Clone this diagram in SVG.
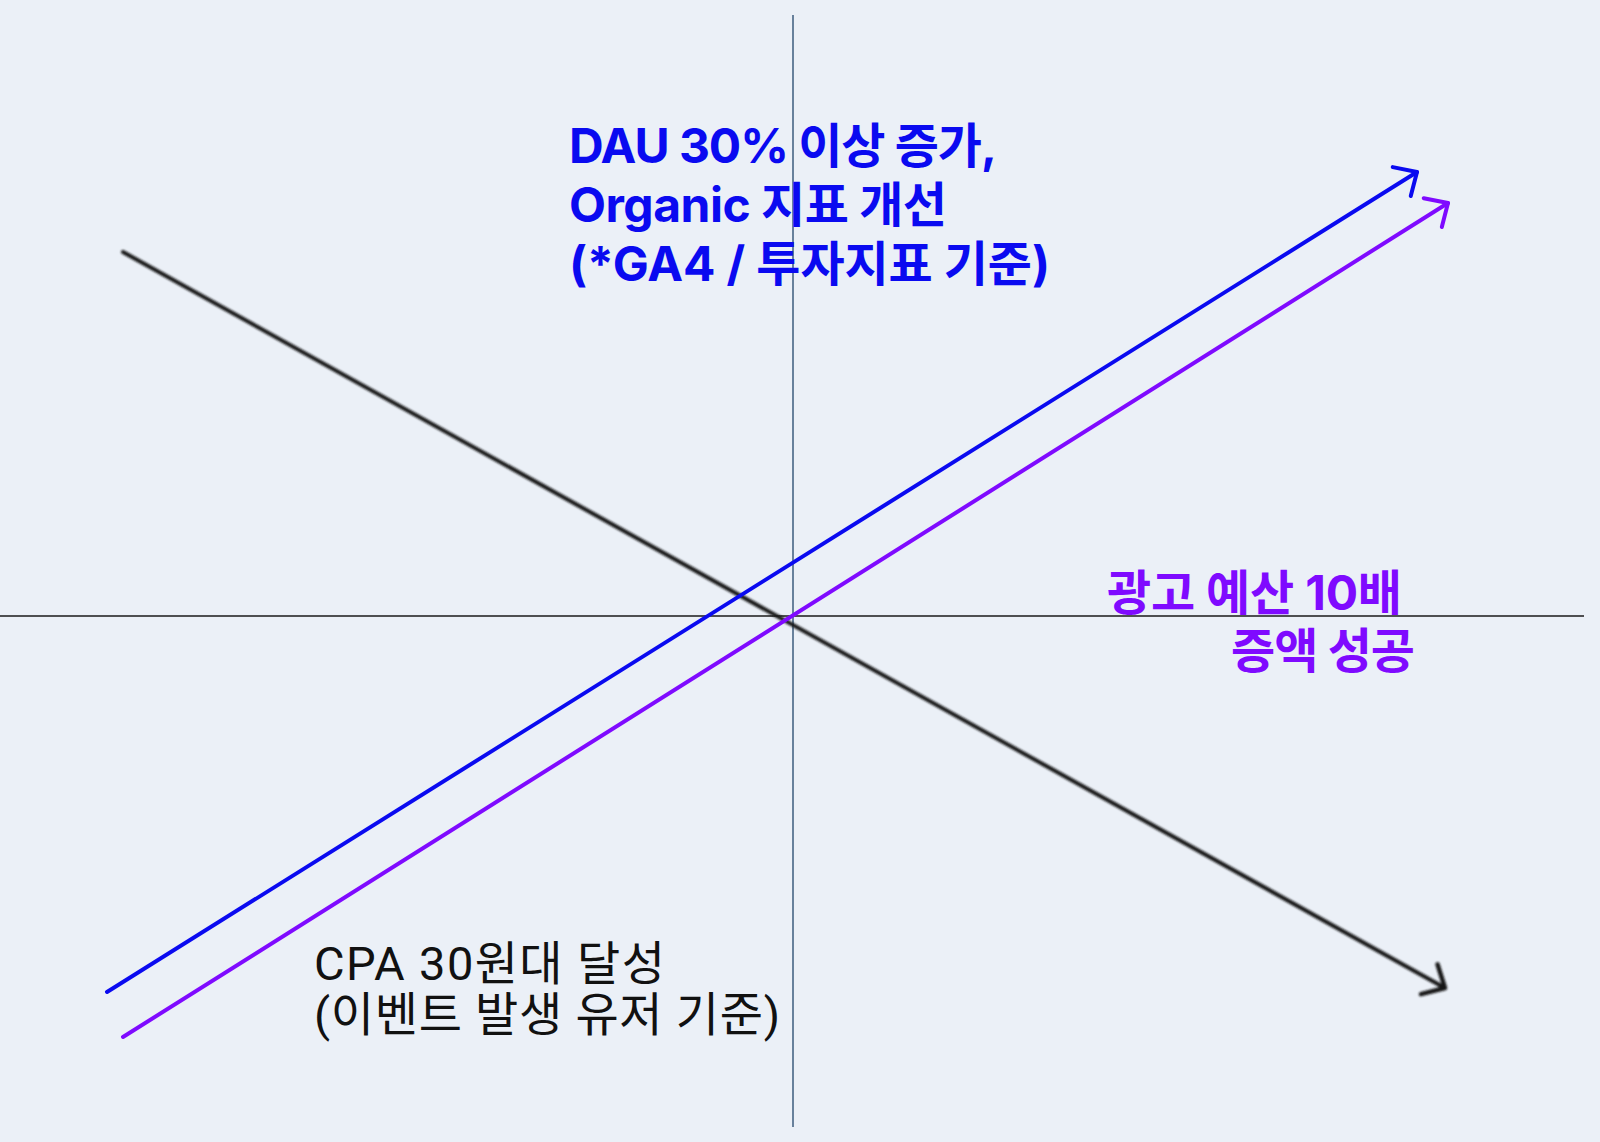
<svg xmlns="http://www.w3.org/2000/svg" width="1600" height="1142" viewBox="0 0 1600 1142">
<defs>
<style>
.t-blue{font-family:"Inter","Noto Sans CJK KR",sans-serif;font-weight:700;font-size:48px;fill:#0a0af0;}
.t-purple{font-family:"Inter","Noto Sans CJK KR",sans-serif;font-weight:700;font-size:48px;fill:#7f0aff;}
.t-black{font-family:"Roboto","Noto Sans CJK KR",sans-serif;font-weight:400;font-size:47px;fill:#111;}
.ln{fill:none;stroke-width:4;stroke-linecap:round;}
</style>
<filter id="blur" x="-5%" y="-5%" width="110%" height="110%"><feGaussianBlur stdDeviation="1.3"/></filter>
<marker id="ah-blue" markerUnits="userSpaceOnUse" viewBox="-25 -20 30 40" refX="0" refY="0" markerWidth="30" markerHeight="40" orient="auto"><path d="M -18 -17 L 0 0 L -18 17" fill="none" stroke="#0a0af0" stroke-width="4" stroke-linecap="round" stroke-linejoin="round"/></marker>
<marker id="ah-purple" markerUnits="userSpaceOnUse" viewBox="-25 -20 30 40" refX="0" refY="0" markerWidth="30" markerHeight="40" orient="auto"><path d="M -18 -17 L 0 0 L -18 17" fill="none" stroke="#7f0aff" stroke-width="4" stroke-linecap="round" stroke-linejoin="round"/></marker>
<marker id="ah-black" markerUnits="userSpaceOnUse" viewBox="-25 -20 30 40" refX="0" refY="0" markerWidth="30" markerHeight="40" orient="auto"><path d="M -18 -17 L 0 0 L -18 17" fill="none" stroke="#151515" stroke-width="4.5" stroke-linecap="round" stroke-linejoin="round"/></marker>
</defs>
<rect width="1600" height="1142" fill="#ebf0f7"/>
<g id="axes">
<line x1="793" y1="15" x2="793" y2="1127" stroke="#3d5c7e" stroke-width="1.5"/>
<line x1="0" y1="616" x2="1584" y2="616" stroke="#1a1a1a" stroke-width="1.5"/>
</g>
<g id="connectors">
<g filter="url(#blur)"><line class="ln" x1="123" y1="252" x2="1445" y2="988" stroke="#151515" stroke-width="4.5" marker-end="url(#ah-black)"/></g>
<line class="ln" x1="107" y1="992" x2="1417" y2="172" stroke="#0a0af0" marker-end="url(#ah-blue)"/>
<line class="ln" x1="123" y1="1037" x2="1448" y2="203" stroke="#7f0aff" marker-end="url(#ah-purple)"/>
</g>
<g id="label-dau">
<text class="t-blue" x="569" y="163" textLength="428" lengthAdjust="spacing">DAU 30% 이상 증가,</text>
<text class="t-blue" x="569" y="222" textLength="378" lengthAdjust="spacing">Organic 지표 개선</text>
<text class="t-blue" x="569" y="281" textLength="481" lengthAdjust="spacing">(*GA4 / 투자지표 기준)</text>
</g>
<g id="label-budget">
<text class="t-purple" x="1107" y="610" textLength="295" lengthAdjust="spacing">광고 예산 10배</text>
<text class="t-purple" x="1231" y="668" textLength="184" lengthAdjust="spacing">증액 성공</text>
</g>
<g id="label-cpa">
<text class="t-black" x="314" y="980" textLength="351" lengthAdjust="spacing">CPA 30원대 달성</text>
<text class="t-black" x="314" y="1031" textLength="466" lengthAdjust="spacing">(이벤트 발생 유저 기준)</text>
</g>
</svg>
